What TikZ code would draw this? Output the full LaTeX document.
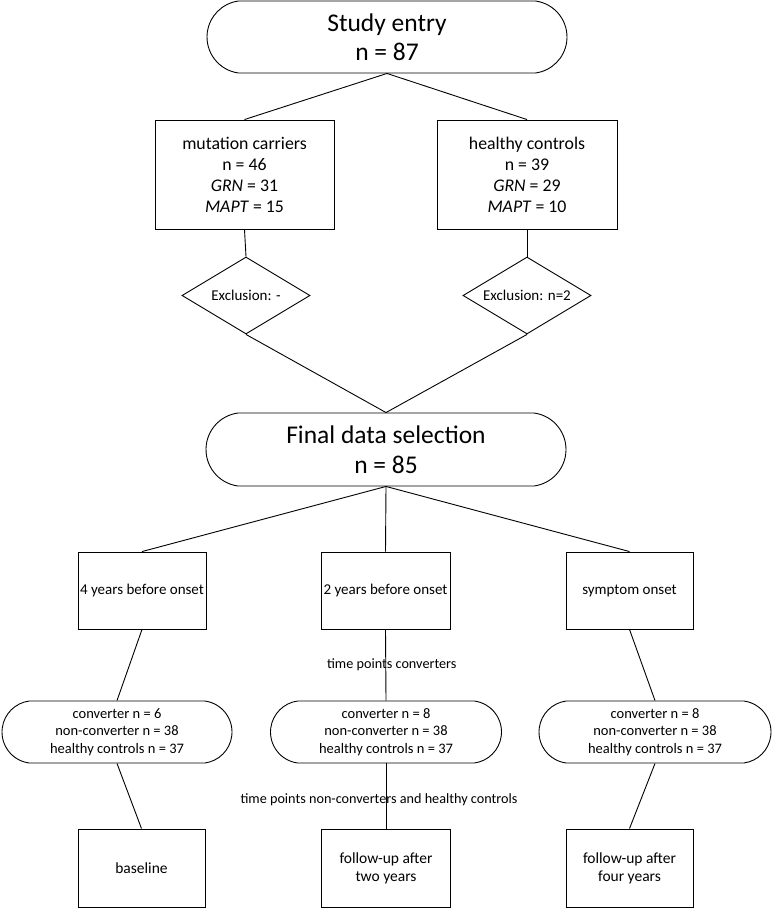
\documentclass[tikz,border=0pt]{standalone}
\usepackage{fontspec}
\setmainfont{Carlito}
\usetikzlibrary{shapes.misc,shapes.geometric}

\begin{document}
\begin{tikzpicture}[x=1pt,y=-1pt,line width=0.9pt]
        \tikzstyle{every node}=[align=center,inner sep=0pt]
        \tikzstyle{stadium}=[draw,rounded rectangle,rounded rectangle arc length=165]
        \tikzstyle{box}=[draw,rectangle]
        \tikzstyle{exclusion}=[draw,diamond,aspect=1.66,minimum width=128,minimum height=77,font=\fontsize{15}{18}\selectfont]
        \tikzstyle{note}=[font=\fontsize{14.2}{17}\selectfont]

        \useasboundingbox (0,0) rectangle (774,910);

        % study entry and groups
        \node[stadium,minimum width=360,minimum height=72,font=\fontsize{25.5}{29}\selectfont] (entry) at (387,37) {Study entry\\n = 87};

        \node[box,minimum width=179,minimum height=109,font=\fontsize{17.8}{21}\selectfont] (carriers) at (244.5,174.5)
            {mutation carriers\\n = 46\\\textit{GRN} = 31\\\textit{MAPT} = 15};
        \node[box,minimum width=180,minimum height=109,font=\fontsize{17.8}{21}\selectfont] (controls) at (527,174.5)
            {healthy controls\\n = 39\\\textit{GRN} = 29\\\textit{MAPT} = 10};

        \node[exclusion] (exclCarriers) at (246,295.5) {Exclusion: -};
        \node[exclusion] (exclControls) at (527,295.5) {Exclusion: n=2};

        \node[stadium,minimum width=360,minimum height=73,font=\fontsize{25.5}{30}\selectfont] (final) at (386,449.5) {Final data selection\\n = 85};

        % time points
        \node[box,minimum width=128,minimum height=77,font=\fontsize{15}{18}\selectfont] (before4) at (142,590.5) {4 years before onset};
        \node[box,minimum width=129,minimum height=77,font=\fontsize{15}{18}\selectfont] (before2) at (385.5,590.5) {2 years before onset};
        \node[box,minimum width=127,minimum height=77,font=\fontsize{15}{18}\selectfont] (onset) at (629.5,590.5) {symptom onset};

        \node[stadium,minimum width=230,minimum height=62,font=\fontsize{14.5}{17.5}\selectfont] (groups4) at (117,732)
            {converter n = 6\\non-converter n = 38\\healthy controls n = 37};
        \node[stadium,minimum width=231,minimum height=62,font=\fontsize{14.5}{17.5}\selectfont] (groups2) at (386,732)
            {converter n = 8\\non-converter n = 38\\healthy controls n = 37};
        \node[stadium,minimum width=232,minimum height=62,font=\fontsize{14.5}{17.5}\selectfont] (groups0) at (655,732)
            {converter n = 8\\non-converter n = 38\\healthy controls n = 37};

        \node[box,minimum width=127,minimum height=78,font=\fontsize{15.5}{18}\selectfont] (baseline) at (141.5,868) {baseline};
        \node[box,minimum width=129,minimum height=78,font=\fontsize{15.5}{18}\selectfont] (followTwo) at (386,868) {follow-up after\\two years};
        \node[box,minimum width=127,minimum height=78,font=\fontsize{15.5}{18}\selectfont] (followFour) at (629.5,868) {follow-up after\\four years};

        % connections
        \draw (entry.south) -- (carriers.north);
        \draw (entry.south) -- (controls.north);
        \draw (carriers.south) -- (exclCarriers.north);
        \draw (controls.south) -- (exclControls.north);
        \draw (exclCarriers.south) -- (final.north);
        \draw (exclControls.south) -- (final.north);

        \draw (final.south) -- (before4.north);
        \draw (final.south) -- (before2.north);
        \draw (final.south) -- (onset.north);

        \draw (before4.south) -- (groups4.north);
        \draw (before2.south) -- node[note,xshift=6pt] {time points converters} (groups2.north);
        \draw (onset.south) -- (groups0.north);

        \draw (groups4.south) -- (baseline.north);
        \draw (groups2.south) -- node[note,xshift=-7pt,yshift=-4pt] {time points non-converters and healthy controls} (followTwo.north);
        \draw (groups0.south) -- (followFour.north);
    \end{tikzpicture}
\end{document}
